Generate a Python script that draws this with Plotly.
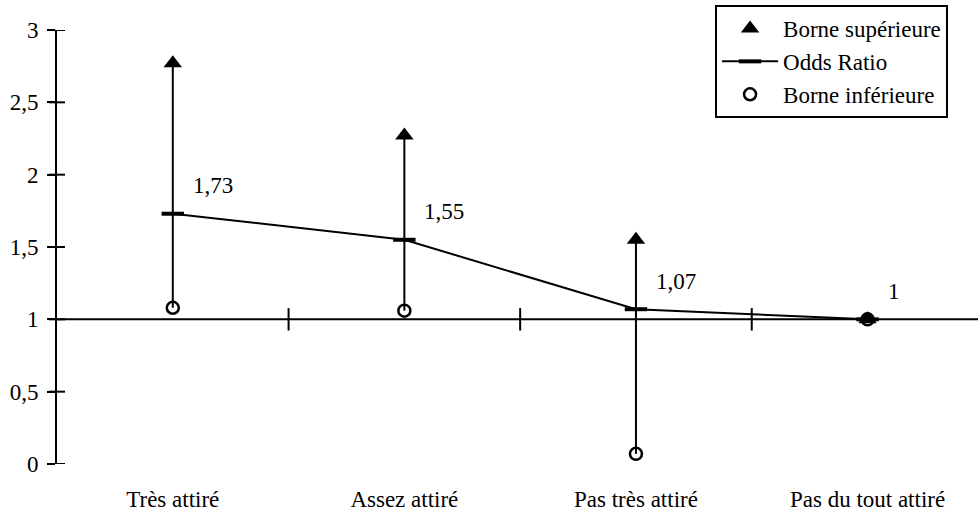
import plotly.graph_objects as go

# Odds ratios with their confidence bounds, by level of attraction
categories = ["Très attiré", "Assez attiré", "Pas très attiré", "Pas du tout attiré"]
odds_ratio = [1.73, 1.55, 1.07, 1.0]
upper_bound = [2.77, 2.27, 1.55, 1.0]
lower_bound = [1.08, 1.06, 0.07, 1.0]
y_ticks = [0, 0.5, 1, 1.5, 2, 2.5, 3]
y_tick_text = ["0", "0,5", "1", "1,5", "2", "2,5", "3"]

FONT = "Times New Roman, Liberation Serif, DejaVu Serif, serif"
FS = 23
x = list(range(len(categories)))


def fmt(v):
    s = f"{v:.2f}".rstrip("0").rstrip(".")
    return s.replace(".", ",")


fig = go.Figure()

# Vertical interval segments from lower to upper bound
seg_x, seg_y = [], []
for xi, lo, hi in zip(x, lower_bound, upper_bound):
    seg_x += [xi, xi, None]
    seg_y += [lo, hi, None]
fig.add_trace(go.Scatter(
    x=seg_x, y=seg_y, mode="lines", line=dict(color="black", width=2),
    showlegend=False, hoverinfo="skip", cliponaxis=False,
))

# Boundary ticks on the reference line y = 1
fig.add_trace(go.Scatter(
    x=[i + 0.5 for i in x[:-1]], y=[1] * (len(x) - 1), mode="markers",
    marker=dict(symbol="line-ns-open", size=16, color="black",
                line=dict(color="black", width=2)),
    showlegend=False, hoverinfo="skip",
))

fig.add_trace(go.Scatter(
    x=x, y=upper_bound, mode="markers", name="Borne supérieure",
    legendgroup="a",
    marker=dict(symbol="triangle-up", size=16, color="black"),
    cliponaxis=False,
))
fig.add_trace(go.Scatter(
    x=x, y=odds_ratio, mode="lines+markers", name="Odds Ratio",
    legendgroup="b",
    line=dict(color="black", width=2),
    marker=dict(symbol="line-ew-open", size=16, color="black",
                line=dict(color="black", width=4)),
    cliponaxis=False,
))
fig.add_trace(go.Scatter(
    x=x, y=lower_bound, mode="markers", name="Borne inférieure",
    legendgroup="c",
    marker=dict(symbol="circle-open", size=12, color="black",
                line=dict(color="black", width=2.5)),
    cliponaxis=False,
))

for xi, v in zip(x, odds_ratio):
    fig.add_annotation(
        x=xi, y=v, text=fmt(v), showarrow=False,
        xanchor="left", yanchor="middle", xshift=18, yshift=28,
        font=dict(family=FONT, size=FS, color="black"),
    )

# Y ticks crossing the vertical axis on both sides
for v in y_ticks:
    fig.add_shape(type="line", xref="paper", xsizemode="pixel", xanchor=0,
                  x0=-8, x1=8, yref="y", y0=v, y1=v,
                  line=dict(color="black", width=2))

# Reference line at odds ratio = 1
fig.add_shape(type="line", xref="paper", x0=0, x1=1, yref="y", y0=1, y1=1,
              line=dict(color="black", width=2), layer="below")

fig.update_layout(
    width=978, height=511,
    margin=dict(l=57, r=0, t=30, b=47),
    plot_bgcolor="white", paper_bgcolor="white",
    font=dict(family=FONT, size=FS, color="black"),
    xaxis=dict(
        range=[-0.5, 3.477], tickvals=x, ticktext=categories,
        showgrid=False, zeroline=False, showline=False, ticks="",
        ticklabelstandoff=19,
    ),
    yaxis=dict(
        range=[0, 3], tickvals=y_ticks, ticktext=y_tick_text,
        showgrid=False, zeroline=False, showline=True,
        linecolor="black", linewidth=2,
        ticks="outside", ticklen=8, tickwidth=2, tickcolor="black",
        ticklabelstandoff=4,
    ),
    legend=dict(
        x=0.9675, y=1.0576, xanchor="right", yanchor="top",
        bordercolor="black", borderwidth=2, bgcolor="white",
        font=dict(family=FONT, size=FS, color="black"),
        traceorder="grouped", tracegroupgap=0, itemwidth=56,
    ),
    showlegend=True,
)

fig.write_html("out.html")
